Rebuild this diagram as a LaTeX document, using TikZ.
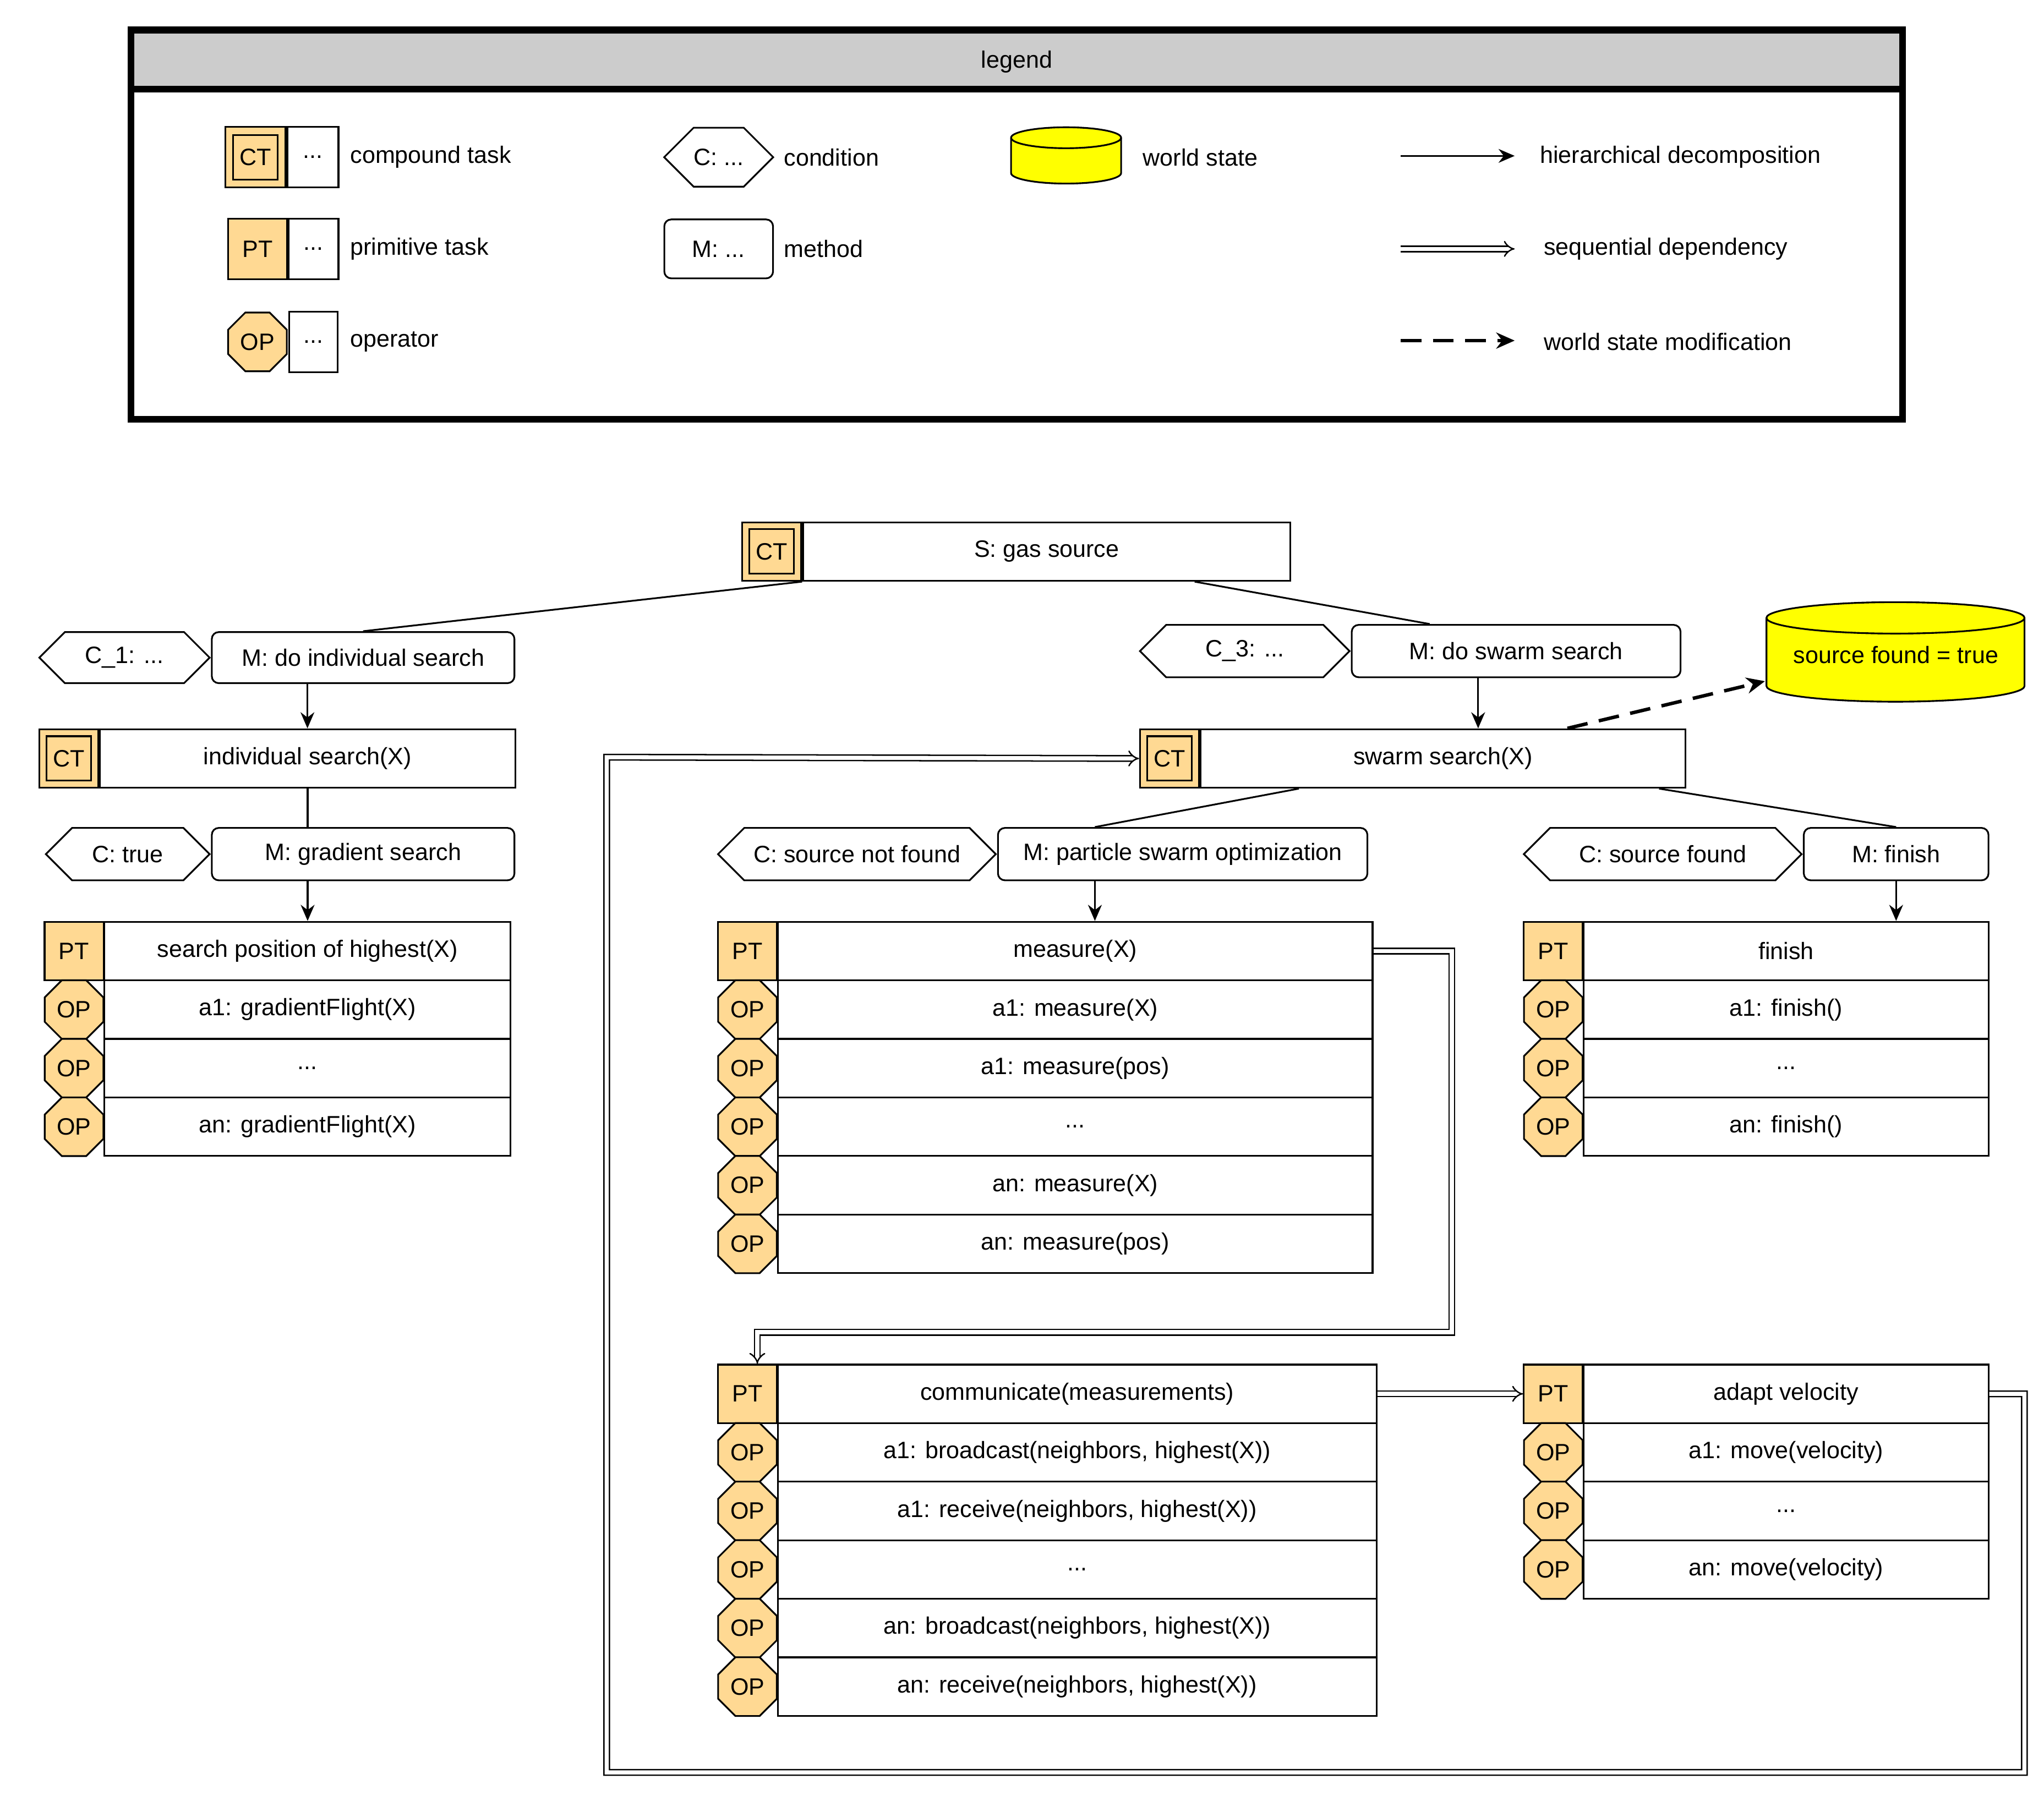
\documentclass[tikz,border=0pt]{standalone}
\usepackage{fontspec}
\setmainfont{Liberation Sans}
\usetikzlibrary{shapes.geometric,shapes.symbols,arrows.meta,calc}
\definecolor{taskorange}{HTML}{FFD993}
\definecolor{headgray}{HTML}{CCCCCC}
\definecolor{wsyellow}{HTML}{FFFF00}
\newcommand\lbl{\fontsize{10.3}{12}\selectfont}
\newcommand\etc{..{}.}
% world state drum: node name, x radius, y radius, side length
\newcommand\wsdrum[4]{%
  \draw[fill=wsyellow,line width=0.75pt] ([yshift=-#3]#1.north west) -- ++(0,-#4)
    arc[start angle=180,end angle=360,x radius=#2,y radius=#3] -- ++(0,#4)
    arc[start angle=0,end angle=180,x radius=#2,y radius=#3] -- cycle;
  \draw[line width=0.75pt] ([yshift=-#3]#1.north west)
    arc[start angle=180,end angle=360,x radius=#2,y radius=#3];}
\begin{document}
\begin{tikzpicture}[x=0.02cm,y=-0.02cm,
   base/.style={draw,line width=0.75pt,inner sep=0pt,font=\lbl},
   icon/.style={base,fill=taskorange,minimum width=0.9cm,minimum height=0.894cm},
   inbox/.style={base,minimum size=0.68cm},
   cell/.style={base,fill=white,minimum height=0.894cm},
   op/.style={base,fill=taskorange,regular polygon,regular polygon sides=8,minimum size=0.97cm},
   cond/.style={base,signal,signal to=west and east,minimum height=0.8cm},
   meth/.style={base,rounded corners=3pt,minimum height=0.8cm},
   ws/.style={inner sep=0pt,font=\lbl},
   txt/.style={font=\lbl,anchor=west,inner sep=0pt},
   hier/.style={line width=0.75pt,-{Stealth[length=7pt,width=6pt]}},
   seq/.style={line width=0.6pt,double,double distance=1.8pt,-{Implies[length=5pt]}},
   mod/.style={line width=1.5pt,dash pattern=on 9pt off 5pt,-{Stealth[length=8pt,width=7pt]}}]
   \useasboundingbox (0,0) rectangle (1560,1371);
   % Legend
   \draw[line width=3pt,fill=headgray] (100,23) rectangle (1452,68);
   \draw[line width=3pt] (100,23) rectangle (1452,320);
   \node[font=\lbl] (legtitle) at (776,47) {legend};
   \node[icon,minimum size=0.92cm] (lct) at (195,120) {};
   \node[inbox] at (lct) {CT};
   \node[cell,anchor=west,minimum width=0.78cm,minimum height=0.92cm] (lctd) at (lct.east) {...};
   \node[txt] at (267,120) {compound task};
   \node[icon,minimum height=0.92cm] (lpt) at (196.5,190) {PT};
   \node[cell,anchor=west,minimum width=0.76cm,minimum height=0.92cm] (lptd) at (lpt.east) {...};
   \node[txt] at (267,190) {primitive task};
   \node[op] (lop) at (196.5,261) {OP};
   \node[cell,anchor=west,minimum width=0.74cm,minimum height=0.92cm] (lopd) at (220,261) {...};
   \node[txt] at (267,261) {operator};
   \node[cond,minimum width=1.66cm,minimum height=0.9cm] (lcond) at (548.5,120) {C: ...};
   \node[txt] at (598,120) {condition};
   \node[meth,minimum width=1.66cm,minimum height=0.9cm] (lmeth) at (548.5,190) {M: ...};
   \node[txt] at (598,190) {method};
   \node[ws,minimum width=1.68cm,minimum height=0.86cm] (lws) at (814,119) {};
   \wsdrum{lws}{0.84cm}{0.16cm}{0.54cm}
   \node[txt] at (872,120) {world state};
   \coordinate (lh1) at (1069,119); \coordinate (lh2) at (1156,119);
   \coordinate (ls1) at (1069,190); \coordinate (ls2) at (1156,190);
   \coordinate (lm1) at (1069,260); \coordinate (lm2) at (1156,260);
   \draw[hier] (lh1) -- (lh2);
   \draw[seq] (ls1) -- (ls2);
   \draw[mod] (lm1) -- (lm2);
   \node[txt] at (1175,120) {hierarchical decomposition};
   \node[txt] at (1178,190) {sequential dependency};
   \node[txt] at (1178,261) {world state modification};
   % Root
   \node[icon] (gasct) at (589,421) {};
   \node[inbox] at (gasct) {CT};
   \node[cell,anchor=west,minimum width=7.44cm] (gas) at (gasct.east) {S: gas source};
   % Left branch
   \node[cond,minimum width=2.6cm,minimum height=0.78cm] (c1) at (95,502) {C\_1: ...};
   \node[meth,anchor=west,minimum width=4.62cm,minimum height=0.78cm] (mind) at (161,502) {M: do individual search};
   \node[icon] (indct) at (52.5,579) {};
   \node[inbox] at (indct) {CT};
   \node[cell,anchor=west,minimum width=6.34cm] (ind) at (indct.east) {individual search(X)};
   \node[cond,minimum width=2.5cm] (ctrue) at (97.5,652) {C: true};
   \node[meth,anchor=west,minimum width=4.62cm] (mgrad) at (161,652) {M: gradient search};
   \node[icon] (spt) at (56.5,726) {PT};
   \node[cell,anchor=west,minimum width=6.2cm] (search) at (79,726) {search position of highest(X)};
   \foreach \t [count=\i] in {{a1: gradientFlight(X)},\etc,{an: gradientFlight(X)}} {
     \node[cell,anchor=west,minimum width=6.2cm] (srow\i) at (79,726+44.7*\i) {\t};
     \node[op] (sop\i) at (56.5,726+44.7*\i) {OP};
   }
   % Right branch
   \node[cond,minimum width=3.2cm] (c3) at (950,497) {C\_3: ...};
   \node[meth,anchor=west,minimum width=5.02cm] (mswarm) at (1031,497) {M: do swarm search};
   \node[ws,minimum width=3.94cm,minimum height=1.52cm] (wsf) at (1447,498) {};
   \wsdrum{wsf}{1.97cm}{0.24cm}{1.04cm}
   \node[font=\lbl] (wsftext) at (1447,500) {source found = true};
   \node[icon] (swct) at (892.5,579) {};
   \node[inbox] at (swct) {CT};
   \node[cell,anchor=west,minimum width=7.4cm] (swarm) at (swct.east) {swarm search(X)};
   \node[cond,minimum width=4.24cm] (cnf) at (654,652) {C: source not found};
   \node[meth,anchor=west,minimum width=5.64cm] (mpso) at (761,652) {M: particle swarm optimization};
   \node[cond,minimum width=4.24cm] (cf) at (1269,652) {C: source found};
   \node[meth,anchor=west,minimum width=2.82cm] (mfin) at (1376,652) {M: finish};
   % measure
   \node[icon] (mpt) at (570.5,726) {PT};
   \node[cell,anchor=west,minimum width=9.08cm] (meas) at (593,726) {measure(X)};
   \foreach \t [count=\i] in {{a1: measure(X)},{a1: measure(pos)},\etc,{an: measure(X)},{an: measure(pos)}} {
     \node[cell,anchor=west,minimum width=9.08cm] (mrow\i) at (593,726+44.7*\i) {\t};
     \node[op] (mop\i) at (570.5,726+44.7*\i) {OP};
   }
   % finish
   \node[icon] (fpt) at (1185.5,726) {PT};
   \node[cell,anchor=west,minimum width=6.18cm] (fin) at (1208,726) {finish};
   \foreach \t [count=\i] in {{a1: finish()},\etc,{an: finish()}} {
     \node[cell,anchor=west,minimum width=6.18cm] (frow\i) at (1208,726+44.7*\i) {\t};
     \node[op] (fop\i) at (1185.5,726+44.7*\i) {OP};
   }
   % communicate
   \node[icon] (cpt) at (570.5,1064) {PT};
   \node[cell,anchor=west,minimum width=9.14cm] (com) at (593,1064) {communicate(measurements)};
   \foreach \t [count=\i] in {{a1: broadcast(neighbors, highest(X))},{a1: receive(neighbors, highest(X))},\etc,{an: broadcast(neighbors, highest(X))},{an: receive(neighbors, highest(X))}} {
     \node[cell,anchor=west,minimum width=9.14cm] (crow\i) at (593,1064+44.7*\i) {\t};
     \node[op] (cop\i) at (570.5,1064+44.7*\i) {OP};
   }
   % adapt velocity
   \node[icon] (apt) at (1185.5,1064) {PT};
   \node[cell,anchor=west,minimum width=6.18cm] (adapt) at (1208,1064) {adapt velocity};
   \foreach \t [count=\i] in {{a1: move(velocity)},\etc,{an: move(velocity)}} {
     \node[cell,anchor=west,minimum width=6.18cm] (arow\i) at (1208,1064+44.7*\i) {\t};
     \node[op] (aop\i) at (1185.5,1064+44.7*\i) {OP};
   }
   % Connectors
   \draw[line width=0.75pt] (gas.south west) -- (mind.north);
   \draw[line width=0.75pt] ([xshift=2.26cm]gas.south) -- ([xshift=-1.32cm]mswarm.north);
   \draw[hier] ([xshift=-0.85cm]mind.south) coordinate (p1) -- (p1 |- ind.north);
   \draw[line width=0.75pt] (ind.south) coordinate (p2) -- (p2 |- mgrad.north);
   \draw[hier] (p2 |- mgrad.south) -- (p2 |- search.north);
   \draw[hier] ([xshift=-0.58cm]mswarm.south) coordinate (p3) -- (p3 |- swarm.north);
   \draw[mod] ([xshift=1.9cm]swarm.north) -- ($(wsf)+(-100,22)$);
   \draw[line width=0.75pt] ([xshift=-2.2cm]swarm.south) -- ([xshift=-1.34cm]mpso.north);
   \draw[line width=0.75pt] ([xshift=3.3cm]swarm.south) -- (mfin.north);
   \draw[hier] ([xshift=-1.34cm]mpso.south) coordinate (p4) -- (p4 |- meas.north);
   \draw[hier] (mfin.south) -- (fin.north -| mfin.south);
   \draw[seq] (meas.east) -| (1108,1017) -| ([xshift=0.15cm]cpt.north);
   \draw[seq] (com.east) -- (apt.west);
   \draw[seq] (adapt.east) -| (1545,1353) -| (463,578) -- (swct.west);
 \end{tikzpicture}
\end{document}
